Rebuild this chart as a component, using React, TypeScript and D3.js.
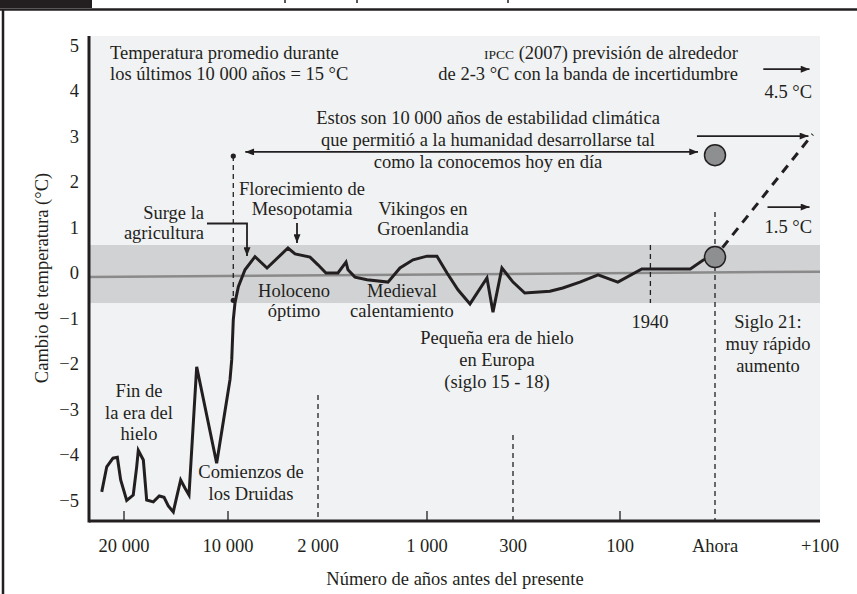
import React, { useEffect, useRef } from "react";
import * as d3 from "d3";

// bottom axis: years before present (negative = future)
const xYears = [20000, 10000, 2000, 1000, 300, 100, 0, -100];
const xLabels = ["20 000", "10 000", "2 000", "1 000", "300", "100", "Ahora", "+100"];
const solidTickYears = [20000, 10000, 1000, 100];
const yTicks = [5, 4, 3, 2, 1, 0, -1, -2, -3, -4, -5];

// temperature curve
const tempYears = [22140, 21660, 21060, 20640, 20320, 19740, 19110, 18780, 18625, 18140, 17820, 17180, 16610, 16150, 15740, 15260, 14930, 14550, 14130, 13750, 13010, 11090, 9820, 9670, 9530, 9380, 9080, 8490, 7600, 6530, 4670, 4040, 2710, 2000, 1927, 1817, 1743, 1725, 1661, 1550, 1358, 1248, 1128, 1000, 919, 837, 748, 650, 512, 463, 390, 300, 278, 231, 207, 175, 141, 104, 77, 26, 12, 0];
const tempValues = [-4.81, -4.26, -4.07, -4.05, -4.55, -5.0, -4.88, -4.26, -3.9, -4.11, -4.99, -5.03, -4.9, -4.93, -5.12, -5.25, -4.92, -4.55, -4.73, -4.88, -2.06, -4.18, -2.34, -1.91, -1.03, -0.66, -0.3, 0.07, 0.36, 0.11, 0.55, 0.42, 0.35, 0.18, 0.0, 0.0, 0.24, 0.07, -0.09, -0.15, -0.2, 0.11, 0.29, 0.37, 0.37, 0.0, -0.37, -0.68, -0.11, -0.86, 0.11, -0.2, -0.44, -0.4, -0.33, -0.2, -0.04, -0.2, 0.09, 0.09, 0.29, 0.35];

// stability band and long-term mean
const band = [0.615, -0.66];
const meanEnds = [-0.09, 0.03];

// dashed guide lines: year and top value (they run down to the axis)
const guideYears = [2000, 300, 0];
const guideTops = [-2.68, -3.56, 1.34];
const year1940 = 68;

// start of the holocene marker
const holoceneYear = 9530;
const holoceneTop = 2.57;
const holoceneBottom = -0.6;

// circles at "Ahora"
const nowValues = [2.59, 0.35];

// IPCC projection
const projYears = [0, -93];
const projValues = [0.35, 3.05];
const arrowHigh = { from: -46, to: -90, value: 4.48 };
const arrowLow = { from: -50, to: -90, value: 1.45 };
const arrowMid = { from: 19, to: -89, value: 3.01 };
const stabilityArrowValue = 2.66;

export default function App() {
  const ref = useRef<SVGSVGElement>(null);

  useEffect(() => {
    const svg = d3.select(ref.current);
    svg.selectAll("*").remove();

    const ink = "#231f20";
    const font = "'Liberation Serif', 'Times New Roman', serif";
    const left = 89, right = 820, top = 36, bottom = 521;

    const x = d3.scaleLinear().domain(xYears).range([124, 228, 318, 427, 513, 620, 715, 820]);
    const y = d3.scaleLinear().domain([-5, 5]).range([500.5, 45.5]);

    const defs = svg.append("defs");
    defs
      .append("marker")
      .attr("id", "head")
      .attr("viewBox", "0 0 10 8")
      .attr("refX", 10)
      .attr("refY", 4)
      .attr("markerWidth", 10)
      .attr("markerHeight", 7)
      .attr("markerUnits", "userSpaceOnUse")
      .attr("orient", "auto-start-reverse")
      .append("path")
      .attr("d", "M0,0L10,4L0,8Z")
      .attr("fill", ink);

    // page frame bits
    svg.append("rect").attr("x", 0).attr("y", 0).attr("width", 92).attr("height", 8).attr("fill", ink);
    svg.append("line").attr("x1", 0).attr("x2", 857).attr("y1", 9.5).attr("y2", 9.5).attr("stroke", ink).attr("stroke-width", 2.5);
    svg.append("line").attr("x1", 3).attr("x2", 3).attr("y1", 9).attr("y2", 594).attr("stroke", ink).attr("stroke-width", 2.5);
    svg
      .selectAll(".desc")
      .data([285, 357, 508])
      .join("line")
      .attr("x1", (d) => d)
      .attr("x2", (d) => d)
      .attr("y1", 0)
      .attr("y2", 3)
      .attr("stroke", ink)
      .attr("stroke-width", 1.5);

    // plot background and band
    svg.append("rect").attr("x", left).attr("y", top).attr("width", right - left).attr("height", bottom - top).attr("fill", "#f1f2f4");
    svg
      .append("rect")
      .attr("x", left)
      .attr("y", y(band[0]))
      .attr("width", right - left)
      .attr("height", y(band[1]) - y(band[0]))
      .attr("fill", "#d1d2d4");
    svg
      .append("line")
      .attr("x1", left)
      .attr("x2", right)
      .attr("y1", y(meanEnds[0]))
      .attr("y2", y(meanEnds[1]))
      .attr("stroke", "#8a8a8a")
      .attr("stroke-width", 2.5);

    // dashed guides
    svg
      .selectAll(".guide")
      .data(guideYears)
      .join("line")
      .attr("x1", (d) => x(d))
      .attr("x2", (d) => x(d))
      .attr("y1", (d, i) => y(guideTops[i]))
      .attr("y2", bottom)
      .attr("stroke", ink)
      .attr("stroke-width", 1.3)
      .attr("stroke-dasharray", "5,4");
    svg
      .append("line")
      .attr("x1", x(year1940))
      .attr("x2", x(year1940))
      .attr("y1", y(band[0]))
      .attr("y2", y(band[1]))
      .attr("stroke", ink)
      .attr("stroke-width", 1.3)
      .attr("stroke-dasharray", "5,4");
    svg
      .append("line")
      .attr("x1", x(holoceneYear))
      .attr("x2", x(holoceneYear))
      .attr("y1", y(holoceneTop))
      .attr("y2", y(holoceneBottom))
      .attr("stroke", ink)
      .attr("stroke-width", 1.3)
      .attr("stroke-dasharray", "5,4");
    svg
      .selectAll(".hdot")
      .data([holoceneTop, holoceneBottom])
      .join("circle")
      .attr("cx", x(holoceneYear))
      .attr("cy", (d) => y(d))
      .attr("r", 2.6)
      .attr("fill", ink);

    // axes
    svg.append("line").attr("x1", left).attr("x2", left).attr("y1", top).attr("y2", bottom + 1.5).attr("stroke", ink).attr("stroke-width", 3);
    svg.append("line").attr("x1", left).attr("x2", right).attr("y1", bottom).attr("y2", bottom).attr("stroke", ink).attr("stroke-width", 3);
    svg
      .selectAll(".xtick")
      .data(solidTickYears)
      .join("line")
      .attr("x1", (d) => x(d))
      .attr("x2", (d) => x(d))
      .attr("y1", bottom)
      .attr("y2", bottom - 10)
      .attr("stroke", ink)
      .attr("stroke-width", 1.3);

    const txt = (g, s, px, py, anchor = "middle", size = 18.5) =>
      g
        .append("text")
        .attr("x", px)
        .attr("y", py)
        .attr("text-anchor", anchor)
        .attr("font-family", font)
        .attr("font-size", size)
        .attr("fill", ink)
        .text(s);

    svg
      .selectAll(".xlab")
      .data(xYears)
      .join("text")
      .attr("x", (d) => x(d))
      .attr("y", 552)
      .attr("text-anchor", "middle")
      .attr("font-family", font)
      .attr("font-size", 18.5)
      .attr("fill", ink)
      .text((d, i) => xLabels[i]);
    svg
      .selectAll(".ylab")
      .data(yTicks)
      .join("text")
      .attr("x", 79)
      .attr("y", (d) => y(d) + 6)
      .attr("text-anchor", "end")
      .attr("font-family", font)
      .attr("font-size", 18.5)
      .attr("fill", ink)
      .text((d) => (d < 0 ? "\u2212" + Math.abs(d) : String(d)));

    txt(svg, "Número de años antes del presente", 455, 585);
    txt(svg, "Cambio de temperatura (°C)", 0, 0).attr("transform", "translate(48,278) rotate(-90)");

    // temperature curve
    const line = d3
      .line<number>()
      .x((d) => x(d))
      .y((d, i) => y(tempValues[i]));
    svg
      .append("path")
      .attr("d", line(tempYears))
      .attr("fill", "none")
      .attr("stroke", ink)
      .attr("stroke-width", 3)
      .attr("stroke-linejoin", "miter");

    // projection
    svg
      .append("line")
      .attr("x1", x(projYears[0]))
      .attr("y1", y(projValues[0]))
      .attr("x2", x(projYears[1]))
      .attr("y2", y(projValues[1]))
      .attr("stroke", ink)
      .attr("stroke-width", 3)
      .attr("stroke-dasharray", "9,7")
      .attr("stroke-dashoffset", -12);

    const arrows = [arrowHigh, arrowLow, arrowMid];
    svg
      .selectAll(".parrow")
      .data(arrows)
      .join("line")
      .attr("x1", (d) => x(d.from))
      .attr("x2", (d) => x(d.to))
      .attr("y1", (d) => y(d.value))
      .attr("y2", (d) => y(d.value))
      .attr("stroke", ink)
      .attr("stroke-width", 1.8)
      .attr("marker-end", "url(#head)");

    // stability arrow (both ends)
    svg
      .append("line")
      .attr("x1", x(holoceneYear) + 12)
      .attr("x2", x(0) - 17)
      .attr("y1", y(stabilityArrowValue))
      .attr("y2", y(stabilityArrowValue))
      .attr("stroke", ink)
      .attr("stroke-width", 1.8)
      .attr("marker-start", "url(#head)")
      .attr("marker-end", "url(#head)");

    svg
      .selectAll(".now")
      .data(nowValues)
      .join("circle")
      .attr("cx", x(0))
      .attr("cy", (d) => y(d))
      .attr("r", 10.5)
      .attr("fill", "#8e8f91")
      .attr("stroke", ink)
      .attr("stroke-width", 1.5);

    // annotation connectors
    svg
      .append("path")
      .attr("d", "M207,223.5H247V256")
      .attr("fill", "none")
      .attr("stroke", ink)
      .attr("stroke-width", 1.8)
      .attr("marker-end", "url(#head)");
    svg
      .append("line")
      .attr("x1", 297)
      .attr("x2", 297)
      .attr("y1", 223)
      .attr("y2", 243)
      .attr("stroke", ink)
      .attr("stroke-width", 1.8)
      .attr("marker-end", "url(#head)");

    // annotation texts
    const notes = [
      { lines: ["Temperatura promedio durante", "los últimos 10 000 años = 15 °C"], x: 110, y: 59, a: "start", lh: 21 },
      { lines: ["de 2-3 °C con la banda de incertidumbre"], x: 738, y: 80, a: "end", lh: 21 },
      { lines: ["Estos son 10 000 años de estabilidad climática", "que permitió a la humanidad desarrollarse tal", "como la conocemos hoy en día"], x: 488, y: 124, a: "middle", lh: 22 },
      { lines: ["4.5 °C"], x: 812, y: 98, a: "end", lh: 21 },
      { lines: ["1.5 °C"], x: 812, y: 233, a: "end", lh: 21 },
      { lines: ["Florecimiento de", "Mesopotamia"], x: 302, y: 195, a: "middle", lh: 20 },
      { lines: ["Surge la", "agricultura"], x: 204, y: 219, a: "end", lh: 19.5 },
      { lines: ["Vikingos en", "Groenlandia"], x: 423, y: 215, a: "middle", lh: 20 },
      { lines: ["Holoceno", "óptimo"], x: 294, y: 297, a: "middle", lh: 20 },
      { lines: ["Medieval", "calentamiento"], x: 402, y: 297, a: "middle", lh: 20 },
      { lines: ["Pequeña era de hielo", "en Europa", "(siglo 15 - 18)"], x: 497, y: 344, a: "middle", lh: 22 },
      { lines: ["1940"], x: 650, y: 328, a: "middle", lh: 20 },
      { lines: ["Siglo 21:", "muy rápido", "aumento"], x: 768, y: 328, a: "middle", lh: 22 },
      { lines: ["Fin de", "la era del", "hielo"], x: 139, y: 397, a: "middle", lh: 21.5 },
      { lines: ["Comienzos de", "los Druidas"], x: 251, y: 478, a: "middle", lh: 22 },
    ];
    notes.forEach((n) => {
      n.lines.forEach((s, i) => txt(svg, s, n.x, n.y + i * n.lh, n.a));
    });

    const ipcc = svg
      .append("text")
      .attr("x", 738)
      .attr("y", 59)
      .attr("text-anchor", "end")
      .attr("font-family", font)
      .attr("font-size", 18.5)
      .attr("fill", ink);
    ipcc.append("tspan").attr("font-size", 13.5).text("IPCC");
    ipcc.append("tspan").text(" (2007) previsión de alrededor");
  }, []);

  return (
    <svg
      ref={ref}
      width={857}
      height={594}
      style={{ position: "absolute", left: 0, top: 0, background: "#fff" }}
    />
  );
}
